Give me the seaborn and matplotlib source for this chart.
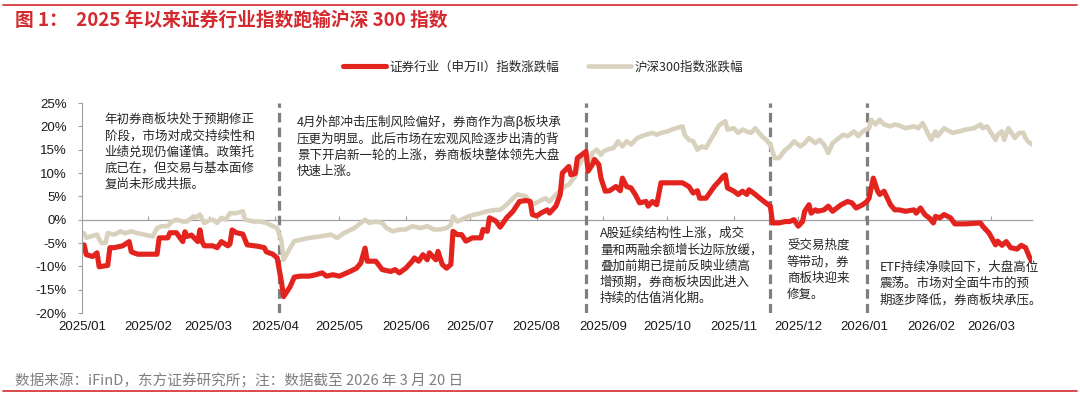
import pandas as pd
import matplotlib.pyplot as plt
import matplotlib.dates as mdates
from matplotlib.lines import Line2D
from matplotlib.ticker import FuncFormatter
import seaborn as sns

sns.set_style("white")
plt.rcParams['font.family'] = ['Noto Sans CJK SC', 'DejaVu Sans']
plt.rcParams['axes.unicode_minus'] = False

# 证券行业（申万II）指数涨跌幅, %
sec_dates = [
    '2025-01-02', '2025-01-03', '2025-01-06', '2025-01-08', '2025-01-09', '2025-01-13', '2025-01-14',
    '2025-01-16', '2025-01-20', '2025-01-23', '2025-01-24', '2025-01-27', '2025-02-05', '2025-02-06',
    '2025-02-10', '2025-02-11', '2025-02-14', '2025-02-17', '2025-02-18', '2025-02-19', '2025-02-21',
    '2025-02-24', '2025-02-25', '2025-02-26', '2025-02-27', '2025-03-03', '2025-03-05', '2025-03-07',
    '2025-03-10', '2025-03-11', '2025-03-12', '2025-03-14', '2025-03-17', '2025-03-19', '2025-03-24',
    '2025-03-27', '2025-03-28', '2025-03-31', '2025-04-02', '2025-04-04', '2025-04-05', '2025-04-08',
    '2025-04-10', '2025-04-13', '2025-04-17', '2025-04-20', '2025-04-23', '2025-04-25', '2025-04-28',
    '2025-05-01', '2025-05-06', '2025-05-09', '2025-05-11', '2025-05-13', '2025-05-14', '2025-05-18',
    '2025-05-21', '2025-05-25', '2025-05-27', '2025-05-29', '2025-06-01', '2025-06-04', '2025-06-05',
    '2025-06-07', '2025-06-09', '2025-06-11', '2025-06-12', '2025-06-15', '2025-06-16', '2025-06-18',
    '2025-06-20', '2025-06-22', '2025-06-23', '2025-06-25', '2025-06-27', '2025-06-29', '2025-07-02',
    '2025-07-06', '2025-07-07', '2025-07-09', '2025-07-10', '2025-07-13', '2025-07-15', '2025-07-18',
    '2025-07-21', '2025-07-24', '2025-07-27', '2025-07-29', '2025-07-30', '2025-08-01', '2025-08-03',
    '2025-08-06', '2025-08-07', '2025-08-10', '2025-08-12', '2025-08-13', '2025-08-16', '2025-08-17',
    '2025-08-19', '2025-08-20', '2025-08-22', '2025-08-24', '2025-08-25', '2025-08-27', '2025-08-28',
    '2025-08-30', '2025-08-31', '2025-09-02', '2025-09-04', '2025-09-07', '2025-09-09', '2025-09-10',
    '2025-09-12', '2025-09-14', '2025-09-16', '2025-09-18', '2025-09-21', '2025-09-22', '2025-09-24',
    '2025-09-26', '2025-09-28', '2025-10-08', '2025-10-11', '2025-10-13', '2025-10-15', '2025-10-16',
    '2025-10-19', '2025-10-21', '2025-10-23', '2025-10-25', '2025-10-27', '2025-10-28', '2025-10-29',
    '2025-11-01', '2025-11-03', '2025-11-05', '2025-11-07', '2025-11-08', '2025-11-11', '2025-11-12',
    '2025-11-15', '2025-11-17', '2025-11-18', '2025-11-19', '2025-11-22', '2025-11-25', '2025-11-27',
    '2025-11-29', '2025-12-01', '2025-12-03', '2025-12-04', '2025-12-06', '2025-12-07', '2025-12-09',
    '2025-12-10', '2025-12-13', '2025-12-15', '2025-12-17', '2025-12-19', '2025-12-21', '2025-12-24',
    '2025-12-26', '2025-12-28', '2025-12-31', '2026-01-02', '2026-01-03', '2026-01-05', '2026-01-07',
    '2026-01-08', '2026-01-10', '2026-01-13', '2026-01-15', '2026-01-17', '2026-01-20', '2026-01-24',
    '2026-01-25', '2026-01-27', '2026-01-29', '2026-01-31', '2026-02-02', '2026-02-03', '2026-02-05',
    '2026-02-07', '2026-02-10', '2026-02-12', '2026-02-17', '2026-02-24', '2026-02-25', '2026-02-28',
    '2026-03-03', '2026-03-04', '2026-03-06', '2026-03-08', '2026-03-10', '2026-03-13', '2026-03-15',
    '2026-03-17', '2026-03-19', '2026-03-20']
sec_vals = [
    -5.4, -7.5, -7.9, -7.1, -10.1, -9.8, -6.0,
    -6.0, -5.6, -4.7, -6.9, -7.4, -7.4, -3.9,
    -3.9, -2.8, -2.8, -4.7, -2.6, -3.6, -3.3,
    -4.7, -2.2, -4.7, -5.6, -5.6, -6.0, -4.7,
    -5.6, -5.2, -2.2, -2.8, -3.1, -5.4, -5.7,
    -6.0, -6.9, -7.4, -8.2, -13.3, -16.5, -14.4,
    -12.3, -12.1, -12.1, -11.8, -11.4, -12.1, -11.8,
    -12.1, -11.1, -10.4, -9.3, -6.1, -8.9, -8.9,
    -10.7, -11.1, -10.7, -11.4, -10.4, -8.9, -8.2,
    -8.9, -7.5, -8.6, -7.1, -8.6, -6.8, -9.6,
    -10.4, -9.6, -2.5, -3.2, -3.2, -4.6, -3.9,
    -3.9, -2.1, -2.5, 0.4, -0.3, -1.6, 0.4,
    1.8, 3.9, 4.1, 3.9, 1.1, 0.8, 1.4,
    2.1, 1.4, 2.9, 5.4, 10.0, 11.4, 9.6,
    9.9, 13.2, 13.9, 14.6, 10.4, 11.8, 12.9,
    11.8, 8.9, 6.1, 6.2, 7.1, 6.2, 8.9,
    7.1, 6.8, 5.4, 3.6, 3.9, 2.9, 3.9,
    3.2, 7.9, 7.9, 7.1, 5.7, 6.2, 4.6,
    4.6, 5.9, 7.2, 8.2, 9.3, 9.6, 6.8,
    6.1, 5.4, 6.1, 5.4, 6.4, 5.4, 5.0,
    3.9, 3.2, 2.9, -0.7, -0.7, -0.4, -0.4,
    0.0, -1.4, -0.4, 1.8, 3.2, 1.4, 2.1,
    1.8, 2.1, 2.9, 1.8, 2.5, 3.2, 3.9,
    3.6, 2.5, 3.2, 3.9, 4.6, 8.9, 6.1,
    5.4, 6.1, 3.2, 2.1, 2.1, 1.8, 2.1,
    1.4, 2.5, 1.1, 0.4, -0.7, 0.7, 0.4,
    1.1, 0.4, -0.9, -0.9, -0.7, -1.4, -2.9,
    -5.4, -4.6, -5.5, -4.7, -6.0, -6.3, -5.5,
    -6.0, -8.2, -8.9]

# 沪深300指数涨跌幅, %
hs_dates = [
    '2025-01-02', '2025-01-03', '2025-01-05', '2025-01-08', '2025-01-10', '2025-01-12', '2025-01-13',
    '2025-01-16', '2025-01-19', '2025-01-21', '2025-01-24', '2025-01-27', '2025-01-30', '2025-02-03',
    '2025-02-05', '2025-02-07', '2025-02-10', '2025-02-12', '2025-02-14', '2025-02-17', '2025-02-19',
    '2025-02-22', '2025-02-23', '2025-02-25', '2025-02-27', '2025-03-02', '2025-03-03', '2025-03-05',
    '2025-03-07', '2025-03-09', '2025-03-11', '2025-03-14', '2025-03-17', '2025-03-18', '2025-03-22',
    '2025-03-25', '2025-03-28', '2025-03-31', '2025-04-02', '2025-04-04', '2025-04-05', '2025-04-08',
    '2025-04-10', '2025-04-13', '2025-04-17', '2025-04-22', '2025-04-27', '2025-04-30', '2025-05-03',
    '2025-05-08', '2025-05-11', '2025-05-13', '2025-05-15', '2025-05-18', '2025-05-21', '2025-05-23',
    '2025-05-26', '2025-05-29', '2025-06-01', '2025-06-04', '2025-06-08', '2025-06-11', '2025-06-14',
    '2025-06-17', '2025-06-20', '2025-06-22', '2025-06-23', '2025-06-25', '2025-06-27', '2025-06-30',
    '2025-07-03', '2025-07-06', '2025-07-09', '2025-07-13', '2025-07-15', '2025-07-18', '2025-07-21',
    '2025-07-23', '2025-07-27', '2025-07-28', '2025-07-30', '2025-08-02', '2025-08-05', '2025-08-07',
    '2025-08-10', '2025-08-12', '2025-08-14', '2025-08-16', '2025-08-19', '2025-08-20', '2025-08-23',
    '2025-08-24', '2025-08-26', '2025-08-27', '2025-08-29', '2025-08-31', '2025-09-01', '2025-09-03',
    '2025-09-06', '2025-09-08', '2025-09-10', '2025-09-12', '2025-09-14', '2025-09-17', '2025-09-19',
    '2025-09-21', '2025-09-24', '2025-09-26', '2025-09-28', '2025-10-01', '2025-10-03', '2025-10-05',
    '2025-10-08', '2025-10-09', '2025-10-11', '2025-10-13', '2025-10-15', '2025-10-17', '2025-10-19',
    '2025-10-21', '2025-10-23', '2025-10-25', '2025-10-28', '2025-10-29', '2025-11-01', '2025-11-03',
    '2025-11-05', '2025-11-07', '2025-11-09', '2025-11-11', '2025-11-14', '2025-11-16', '2025-11-18',
    '2025-11-20', '2025-11-22', '2025-11-25', '2025-11-27', '2025-11-29', '2025-12-02', '2025-12-04',
    '2025-12-06', '2025-12-09', '2025-12-11', '2025-12-13', '2025-12-15', '2025-12-17', '2025-12-20',
    '2025-12-22', '2025-12-24', '2025-12-27', '2025-12-29', '2025-12-31', '2026-01-03', '2026-01-04',
    '2026-01-06', '2026-01-08', '2026-01-10', '2026-01-13', '2026-01-15', '2026-01-17', '2026-01-20',
    '2026-01-24', '2026-01-26', '2026-01-28', '2026-01-30', '2026-02-01', '2026-02-03', '2026-02-04',
    '2026-02-07', '2026-02-08', '2026-02-11', '2026-02-14', '2026-02-17', '2026-02-21', '2026-02-24',
    '2026-02-25', '2026-02-27', '2026-03-03', '2026-03-04', '2026-03-06', '2026-03-07', '2026-03-09',
    '2026-03-10', '2026-03-12', '2026-03-14', '2026-03-16', '2026-03-17', '2026-03-18', '2026-03-20']
hs_vals = [
    -2.9, -3.9, -3.6, -3.2, -5.0, -5.0, -2.9,
    -3.2, -2.5, -2.9, -2.5, -2.9, -3.2, -3.6,
    -1.8, -1.4, -1.4, -0.4, 0.0, -0.4, -0.4,
    0.7, 0.4, 1.1, -0.7, 0.0, 0.0, -0.7,
    0.4, 0.0, 1.4, 1.4, 1.8, 0.0, -0.4,
    -0.4, -0.7, -1.4, -1.8, -4.6, -8.6, -6.1,
    -4.6, -4.3, -3.9, -3.6, -3.2, -3.9, -2.9,
    -1.8, -0.7, 0.0, -0.7, -0.4, -0.7, -1.8,
    -2.5, -2.1, -2.1, -1.4, -1.8, -1.4, -2.1,
    -2.1, -1.8, -1.1, 0.7, -0.4, 0.0, 0.7,
    1.1, 1.4, 1.8, 2.1, 2.1, 3.2, 4.6,
    5.4, 5.0, 4.3, 3.2, 3.9, 4.6, 3.9,
    5.4, 6.1, 7.1, 7.5, 9.3, 11.1, 13.6,
    14.3, 12.5, 14.3, 15.0, 13.9, 14.6, 15.0,
    15.4, 16.8, 15.7, 16.8, 16.1, 17.5, 17.9,
    18.2, 18.6, 18.2, 18.6, 18.9, 19.3, 19.6,
    20.0, 18.2, 17.1, 16.8, 15.0, 15.7, 15.4,
    17.0, 18.5, 20.2, 21.1, 19.3, 19.6, 18.6,
    19.3, 18.9, 18.6, 19.6, 17.9, 17.1, 16.1,
    13.2, 13.2, 15.0, 15.7, 16.8, 15.7, 16.4,
    17.5, 16.4, 17.1, 16.1, 14.3, 16.4, 17.5,
    18.2, 17.9, 18.9, 17.9, 18.9, 19.6, 21.4,
    20.4, 21.4, 20.4, 20.0, 20.4, 20.2, 19.6,
    20.0, 19.6, 20.7, 18.9, 17.1, 18.9, 17.9,
    19.6, 19.3, 18.6, 18.9, 19.3, 19.6, 20.4,
    19.6, 20.0, 17.1, 18.2, 18.9, 17.1, 19.6,
    18.9, 17.5, 18.6, 18.6, 17.5, 16.8, 16.1]

sec_label = '证券行业（申万II）指数涨跌幅'
hs_label = '沪深300指数涨跌幅'
event_dates = ['2025-04-03', '2025-08-24', '2025-11-18', '2026-01-02']
tick_months = pd.date_range('2025-01-01', '2026-03-01', freq='MS')

notes = [
    (104.7, 113, '年初券商板块处于预期修正\n阶段，市场对成交持续性和\n业绩兑现仍偏谨慎。政策托\n底已在，但交易与基本面修\n复尚未形成共振。'),
    (297, 115, '4月外部冲击压制风险偏好，券商作为高β板块承\n压更为明显。此后市场在宏观风险逐步出清的背\n景下开启新一轮的上涨，券商板块整体领先大盘\n快速上涨。'),
    (600, 227, 'A股延续结构性上涨，成交\n量和两融余额增长边际放缓，\n叠加前期已提前反映业绩高\n增预期，券商板块因此进入\n持续的估值消化期。'),
    (787, 239, '受交易热度\n等带动，券\n商板块迎来\n修复。'),
    (880, 261, 'ETF持续净赎回下，大盘高位\n震荡。市场对全面牛市的预\n期逐步降低，券商板块承压。'),
]

red = '#E3231E'
beige = '#D8D1BD'
grey = '#A0A0A0'
W, H = 1080, 399

df_sec = pd.DataFrame({'date': pd.to_datetime(sec_dates), 'pct': sec_vals})
df_hs = pd.DataFrame({'date': pd.to_datetime(hs_dates), 'pct': hs_vals})

fig = plt.figure(figsize=(10.8, 3.99), dpi=100)
ax = fig.add_axes([82 / W, 1 - 313 / H, (1032 - 82) / W, 210 / H])

sns.lineplot(data=df_hs, x='date', y='pct', color=beige, linewidth=3.3, label=hs_label, ax=ax)
sns.lineplot(data=df_sec, x='date', y='pct', color=red, linewidth=3.7, label=sec_label, ax=ax)

for d in event_dates:
    ax.axvline(pd.Timestamp(d), color='#7F7F7F', linewidth=2.3, linestyle=(0, (3, 1.6)), zorder=1)

ax.set_xlim(pd.Timestamp('2025-01-01'), pd.Timestamp('2026-03-20'))
ax.set_ylim(-20, 25)
ax.set_yticks(range(-20, 26, 5))
ax.yaxis.set_major_formatter(FuncFormatter(lambda v, p: f'{v:.0f}%'))
ax.set_xticks(tick_months)
ax.xaxis.set_major_formatter(mdates.DateFormatter('%Y/%m'))
ax.set_xlabel('')
ax.set_ylabel('')

tick_font = ['Liberation Sans', 'DejaVu Sans']
for lab in ax.get_xticklabels() + ax.get_yticklabels():
    lab.set_family(tick_font)
    lab.set_fontsize(9.5)
    lab.set_color('#1a1a1a')
ax.tick_params(axis='x', length=0, pad=6)
ax.tick_params(axis='y', length=3, width=0.8, direction='out', color=grey, pad=8, left=True)

for s in ['top', 'right', 'bottom']:
    ax.spines[s].set_visible(False)
ax.spines['left'].set_color(grey)
ax.spines['left'].set_linewidth(0.8)

# zero line carries the month ticks
zero = ax.secondary_xaxis(20 / 45)
zero.set_xticks(tick_months)
zero.tick_params(direction='in', length=3, width=0.8, color=grey, labelbottom=False, labeltop=False)
zero.spines['bottom'].set_color(grey)
zero.spines['bottom'].set_linewidth(0.9)

handles, labels = ax.get_legend_handles_labels()
ax.get_legend().remove()
fig.legend(handles[::-1], labels[::-1], loc='center', bbox_to_anchor=(543 / W, 1 - 67 / H), ncol=2,
           frameon=False, fontsize=9, handlelength=3.4, handletextpad=0.3, columnspacing=2.3)

for x, y, txt in notes:
    fig.text(x / W, 1 - y / H, txt, ha='left', va='top', fontsize=9, linespacing=1.33, color='#262626')

fig.text(15 / W, 1 - 20 / H, '图 1：  2025 年以来证券行业指数跑输沪深 300 指数', color='#D42A2F',
         fontsize=13.5, fontweight='bold', va='center', ha='left')
fig.text(15 / W, 1 - 380 / H, '数据来源：iFinD，东方证券研究所；注：数据截至 2026 年 3 月 20 日', color='#7F7F7F',
         fontsize=10.5, va='center', ha='left')
fig.add_artist(Line2D([0.003, 0.997], [1 - 4.5 / H] * 2, color='#D42A2F', linewidth=1.2))
fig.add_artist(Line2D([0.003, 0.997], [1 - 391 / H] * 2, color='#D42A2F', linewidth=1.2))

fig.savefig('out.png', dpi=100, facecolor='white')
